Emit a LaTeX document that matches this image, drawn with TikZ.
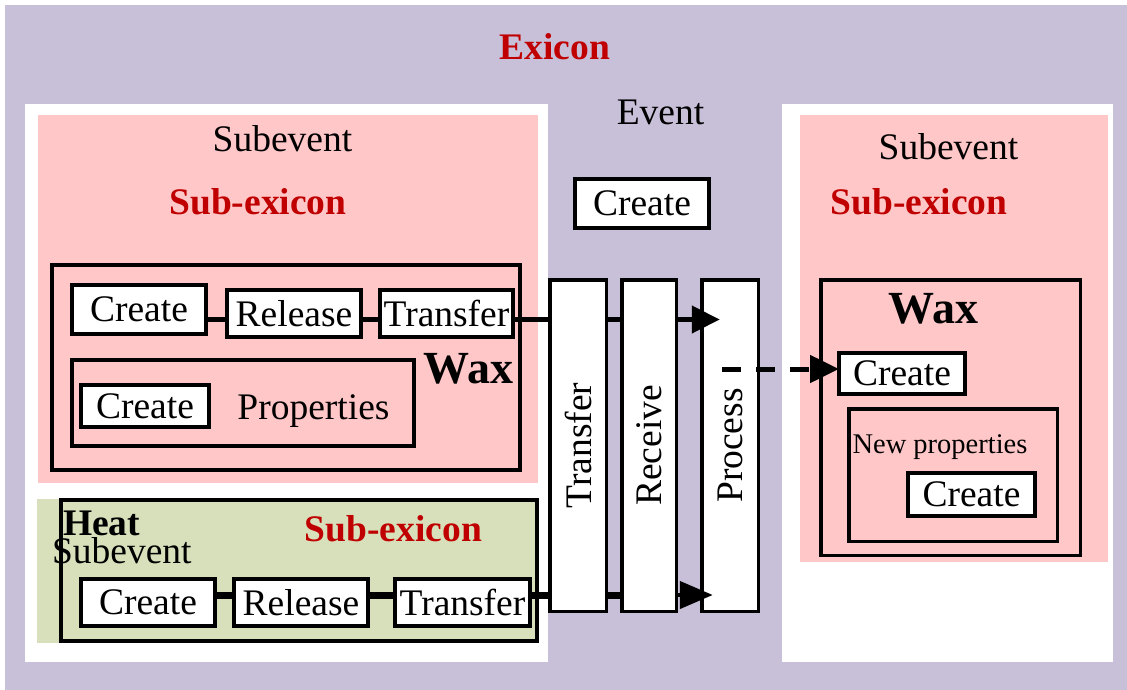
\documentclass[tikz,border=0pt]{standalone}
\usepackage{fontspec}
\setmainfont{Liberation Serif}
\usetikzlibrary{arrows.meta,calc}
\definecolor{lav}{RGB}{200,191,216}
\definecolor{pinkc}{RGB}{255,199,199}
\definecolor{greenc}{RGB}{215,224,187}
\definecolor{exred}{RGB}{192,0,0}
\begin{document}
\begin{tikzpicture}[x=1pt,y=-1pt,
  every node/.style={inner sep=0pt, outer sep=0pt},
  lbl/.style={font=\fontsize{37.5}{40}\selectfont, anchor=base},
  lblb/.style={font=\bfseries\fontsize{37.5}{40}\selectfont, anchor=base},
  redlbl/.style={lblb, text=exred},
  waxlbl/.style={font=\bfseries\fontsize{46}{50}\selectfont, anchor=base},
  stepbox/.style={draw, line width=4pt, fill=white, font=\fontsize{37.5}{40}\selectfont},
  vbox/.style={draw, line width=3.5pt, fill=white},
  vtext/.style={rotate=90, font=\fontsize{37.5}{40}\selectfont},
  frame/.style={draw, line width=4pt},
  link/.style={line width=4.5pt},
  tip/.style={-{Triangle[length=#1,width=27pt]}},
]
\useasboundingbox (0,0) rectangle (1127,690);
% backgrounds
\fill[lav] (5,5) rectangle (1127,690);
\fill[white] (25,104) rectangle (548,662);
\fill[white] (782,104) rectangle (1113,662);
\fill[pinkc] (38,115) rectangle (538,483);
\fill[pinkc] (800,115) rectangle (1108,562);
\fill[greenc] (37,499) rectangle (538,643);

% titles
\node[redlbl] (exicon) at (555,60) {Exicon};
\node[lbl] (event) at (660.5,125) {Event};
\node[stepbox, minimum width=134pt, minimum height=49pt] (evCreate) at (642,203.5) {Create};

% left wax subevent
\node[lbl] (subevL) at (282.5,152) {Subevent};
\node[redlbl] (subexL) at (258,214) {Sub-exicon};
\node[frame, fill=pinkc, minimum width=468pt, minimum height=205pt] (waxL) at (286,367.5) {};
\node[stepbox, minimum width=134pt, minimum height=49pt] (createA) at (139,309.5) {Create};
\node[stepbox, minimum width=134pt, minimum height=47pt] (releaseA) at (294,313.5) {Release};
\node[stepbox, minimum width=133pt, minimum height=47pt] (transferA) at (446.5,313.5) {Transfer};
\node[frame, fill=pinkc, minimum width=342pt, minimum height=86pt] (propL) at (243,403) {};
\node[stepbox, minimum width=128pt, minimum height=42pt] (createP) at (145,406) {Create};
\node[lbl] (props) at (313.5,419) {Properties};
\node[waxlbl] (waxtxtL) at (468.5,383) {Wax};

% heat subevent
\node[frame, fill=greenc, minimum width=476pt, minimum height=141pt] (heat) at (299,570.5) {};
\node[lblb, anchor=base west] (heattxt) at (63,535) {Heat};
\node[lbl, anchor=base west] (subevH) at (52,563) {Subevent};
\node[redlbl] (subexH) at (393.5,541) {Sub-exicon};
\node[stepbox, minimum width=134pt, minimum height=47pt] (createB) at (148,602.5) {Create};
\node[stepbox, minimum width=134pt, minimum height=47pt] (releaseB) at (301,602.5) {Release};
\node[stepbox, minimum width=135pt, minimum height=47pt] (transferB) at (462.5,602.5) {Transfer};

% event steps
\node[vbox, minimum width=56.5pt, minimum height=331.5pt] (vTransfer) at (578,445.5) {};
\node[vtext] (vTransferTxt) at (vTransfer) {Transfer};
\node[vbox, minimum width=54.5pt, minimum height=331.5pt] (vReceive) at (649,445.5) {};
\node[vtext] (vReceiveTxt) at (vReceive) {Receive};
\node[vbox, minimum width=56.5pt, minimum height=331.5pt] (vProcess) at (730,445.5) {};
\node[vtext] (vProcessTxt) at (vProcess) {Process};

% right wax subevent
\node[lbl] (subevR) at (948.5,160) {Subevent};
\node[redlbl] (subexR) at (919,214) {Sub-exicon};
\node[frame, line width=3.5pt, fill=pinkc, minimum width=259.5pt, minimum height=275.5pt] (waxR) at (950.5,417.5) {};
\node[waxlbl] (waxtxtR) at (933.5,323) {Wax};
\node[stepbox, minimum width=126pt, minimum height=41pt] (createR) at (902,373.5) {Create};
\node[frame, line width=3.5pt, fill=pinkc, minimum width=208.5pt, minimum height=132.5pt] (newprop) at (953,475) {};
\node[font=\fontsize{28.5}{30}\selectfont, anchor=base] (newproptxt) at (940,453) {New properties};
\node[stepbox, minimum width=127pt, minimum height=43pt] (createR2) at (971.5,494.5) {Create};

% connectors
\coordinate (rowA) at (0,319.5);
\coordinate (rowB) at (0,595);
\coordinate (rowD) at (0,369);
\draw[link] (createA.east |- rowA) -- (releaseA.west |- rowA);
\draw[link] (releaseA.east |- rowA) -- (transferA.west |- rowA);
\draw[link] (transferA.east |- rowA) -- (vTransfer.west |- rowA);
\draw[link] (vTransfer.east |- rowA) -- (vReceive.west |- rowA);
\draw[link, tip=28pt] (vReceive.east |- rowA) -- ($(vProcess.west |- rowA)+(18,0)$);

\draw[link, line width=7pt] (createB.east |- rowB) -- (releaseB.west |- rowB);
\draw[link, line width=7pt] (releaseB.east |- rowB) -- (transferB.west |- rowB);
\draw[link, line width=7pt] (transferB.east |- rowB) -- (vTransfer.west |- rowB);
\draw[link, line width=7pt] (vTransfer.east |- rowB) -- (vReceive.west |- rowB);
\draw[link, line width=4.5pt, tip=33pt] (vReceive.east |- rowB) -- ($(vProcess.west |- rowB)+(11,0)$);

\draw[line width=5pt, dash pattern=on 19pt off 15pt, tip=29pt]
  ($(vProcess.west |- rowD)+(20,0)$) -- (createR.west |- rowD);
\end{tikzpicture}
\end{document}
